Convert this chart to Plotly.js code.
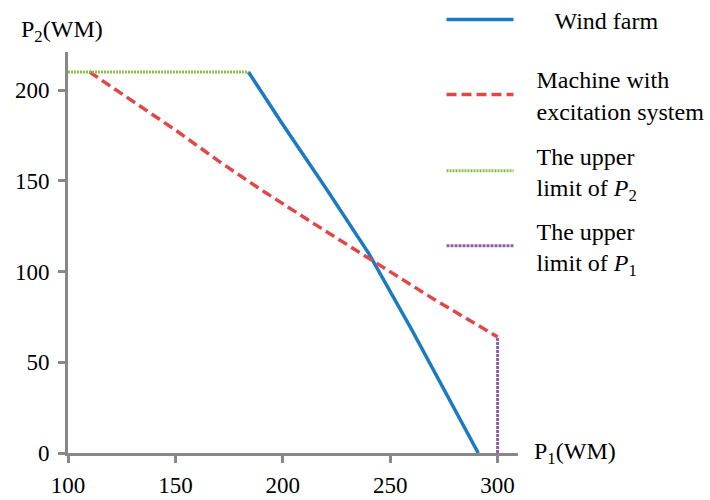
<!DOCTYPE html>
<html>
<head>
<meta charset="utf-8">
<script src="https://cdn.plot.ly/plotly-3.0.1.min.js"></script>
<style>html,body{margin:0;padding:0;background:#fff;}#chart{width:710px;height:500px;}</style>
</head>
<body>
<div id="chart"></div>
<script>
const windX = [184, 200, 220, 240, 260, 280, 291];
const windY = [210, 181, 146, 110, 68, 24, 0];
const machineX = [110, 130, 150, 170, 190, 215, 242, 270, 300];
const machineY = [210, 194, 178, 161, 145, 126, 106, 85, 64];
const p2LimitX = [100, 184];
const p2LimitY = [210, 210];
const p1LimitX = [300, 300];
const p1LimitY = [0, 64];
const sp = "&nbsp;&nbsp;&nbsp;";
const names = [sp + "&nbsp;&nbsp;&nbsp;Wind farm", sp + "Machine with<br>" + sp + "excitation system", sp + "The upper<br>" + sp + "limit of <i>P</i><sub>2</sub>", sp + "The upper<br>" + sp + "limit of <i>P</i><sub>1</sub>"];
const xTicks = [100, 150, 200, 250, 300];
const yTicks = [0, 50, 100, 150, 200];

const font = {family: "Liberation Serif, Times New Roman, serif", size: 23, color: "#000"};
const legFont = {family: "Liberation Serif, Times New Roman, serif", size: 24, color: "#000"};
const traces = [
  {x: windX, y: windY, name: names[0], mode: "lines", line: {color: "#1b7bc0", width: 3.5}, legend: "legend"},
  {x: machineX, y: machineY, name: names[1], mode: "lines", line: {color: "#e04848", width: 3.5, dash: "10px,5px"}, legend: "legend2"},
  {x: p2LimitX, y: p2LimitY, name: names[2], mode: "lines", line: {color: "#8cc04a", width: 3, dash: "2px,1px"}, legend: "legend3"},
  {x: p1LimitX, y: p1LimitY, name: names[3], mode: "lines", line: {color: "#8d5fa8", width: 3, dash: "3px,1px"}, legend: "legend4"}
];
function leg(y) {
  return {x: 0.83, y: y, xanchor: "left", yanchor: "middle", font: legFont, bgcolor: "rgba(0,0,0,0)",
    itemwidth: 67, maxheight: 1};
}
const axisCommon = {showgrid: false, zeroline: false, showline: true, linecolor: "#888", linewidth: 3,
  ticks: "outside", ticklen: 7, tickwidth: 3, tickcolor: "#888", tickfont: font};
const layout = {
  width: 710, height: 500,
  margin: {l: 68, r: 192, t: 52, b: 47, autoexpand: false},
  paper_bgcolor: "#fff", plot_bgcolor: "#fff",
  font: font,
  showlegend: true,
  legend: leg(1.08),
  legend2: leg(0.893),
  legend3: leg(0.703),
  legend4: leg(0.516),
  xaxis: Object.assign({}, axisCommon, {range: [100, 309.5], tickvals: xTicks, ticktext: xTicks.map(String), ticklabelstandoff: 2}),
  yaxis: Object.assign({}, axisCommon, {range: [0, 221], tickvals: yTicks, ticktext: yTicks.map(String), ticklabelstandoff: 4}),
  annotations: [
    {xref: "paper", yref: "paper", x: -0.11, y: 1.0, xanchor: "left", yanchor: "bottom", yshift: 4, showarrow: false,
     text: "P<sub>2</sub>(WM)", font: legFont},
    {xref: "paper", yref: "paper", x: 1.03, y: 0, xanchor: "left", yanchor: "middle", showarrow: false,
     text: "P<sub>1</sub>(WM)", font: legFont}
  ]
};
Plotly.newPlot("chart", traces, layout, {displayModeBar: false, staticPlot: true});
</script>
</body>
</html>
